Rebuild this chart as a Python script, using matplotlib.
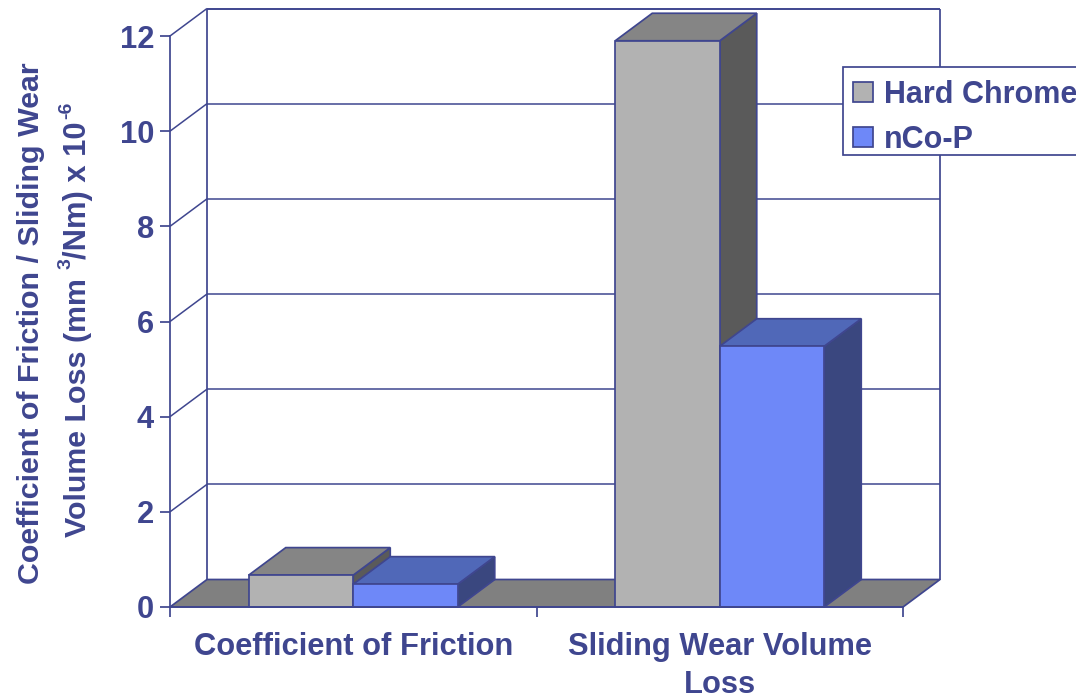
import matplotlib
matplotlib.use("Agg")
import matplotlib.pyplot as plt
from matplotlib.patches import Polygon, Patch, Rectangle

categories = ["Coefficient of Friction", "Sliding Wear Volume\nLoss"]
hard_chrome = [0.67, 11.9]
nco_p = [0.48, 5.48]
y_ticks = [0, 2, 4, 6, 8, 10, 12]
series_names = ["Hard Chrome", "nCo-P"]

W, H = 1076, 695
INK = "#3F468F"
FS = 22.2
plt.rcParams["font.family"] = ["Liberation Sans", "DejaVu Sans"]
plt.rcParams["font.weight"] = "bold"

fig = plt.figure(figsize=(W / 100, H / 100), dpi=100, facecolor="white")
L, R, T, B = 170.0, 903.0, 36.0, 607.0
ax = fig.add_axes([L / W, 1 - B / H, (R - L) / W, (B - T) / H])
ax.set_xlim(0, 2)
ax.set_ylim(0, 12)
ax.patch.set_visible(False)

px_x = 2 / (R - L)
px_y = 12 / (B - T)
DX = 37 * px_x
DY = 27.5 * px_y
LW = 1.25
bar_w = 104.5 * px_x


def poly(pts, fc, z):
    ax.add_patch(Polygon(pts, closed=True, facecolor=fc, edgecolor=INK, linewidth=LW,
                         zorder=z, clip_on=False, joinstyle="miter"))


def line(xs, ys, z=1, lw=LW):
    ax.plot(xs, ys, color=INK, lw=lw, zorder=z, clip_on=False, solid_capstyle="butt")


top = 12 + DY
poly([(DX, DY), (2 + DX, DY), (2, 0), (0, 0)], "#808080", 1)
line([DX, DX], [DY, top], 1)
line([DX, 2 + DX], [top, top], 1)
line([2 + DX, 2 + DX], [DY, top], 1)
for t in y_ticks[1:]:
    line([0, DX], [t, t + DY], 1, 1.1)
    line([DX, 2 + DX], [t + DY, t + DY], 1, 1.1)


def box(x0, w, h, front, topc, side, z):
    x1 = x0 + w
    ax.bar(x0, h, width=w, align="edge", color=front, edgecolor=INK, linewidth=LW, zorder=z + 0.2, clip_on=False)
    poly([(x1, 0), (x1 + DX, DY), (x1 + DX, h + DY), (x1, h)], side, z)
    poly([(x0, h), (x0 + DX, h + DY), (x1 + DX, h + DY), (x1, h)], topc, z + 0.1)


STYLE = [("#B2B2B2", "#858585", "#5A5A5A"), ("#6E88F8", "#5068B8", "#3A477F")]
for i in range(len(categories)):
    c = i + 0.5
    box(c - bar_w, bar_w, hard_chrome[i], *STYLE[0], 3)
    box(c, bar_w, nco_p[i], *STYLE[1], 4)

for sp in ("top", "right"):
    ax.spines[sp].set_visible(False)
for sp in ("left", "bottom"):
    ax.spines[sp].set_color(INK)
    ax.spines[sp].set_linewidth(LW)
    ax.spines[sp].set_zorder(6)

ax.set_yticks(y_ticks)
ax.tick_params(axis="y", length=7.5, width=LW, color=INK, labelcolor=INK, labelsize=FS, pad=4)
ax.set_xticks([0, 1, 2])
ax.set_xticklabels([])
ax.tick_params(axis="x", which="major", length=7.5, width=LW, color=INK)
ax.set_xticks([0.5, 1.5], minor=True)
ax.set_xticklabels(categories, minor=True, color=INK, fontsize=FS, linespacing=1.36)
ax.tick_params(axis="x", which="minor", length=0, pad=18)


def ptext(x, y, s, **kw):
    fig.text(x / W, 1 - y / H, s, color=INK, ha="center", va="baseline", rotation=90,
             rotation_mode="anchor", **kw)


ptext(39, 323, "Coefficient of Friction / Sliding Wear", fontsize=21.9)
ptext(86, 408, "Volume Loss (mm", fontsize=21.9)
ptext(71, 264, "3", fontsize=14)
ptext(86, 190, "/Nm) x 10", fontsize=FS)
ptext(71, 110, "-6", fontsize=14)

ax.add_patch(Rectangle((843 / W, 1 - 155 / H), 260 / W, 88 / H, transform=fig.transFigure,
                       facecolor="white", edgecolor=INK, linewidth=LW, zorder=9, clip_on=False))
leg_handles = [Patch(facecolor=STYLE[k][0], edgecolor=INK, linewidth=LW) for k in range(2)]
leg = ax.legend(leg_handles, series_names, loc="upper left",
                bbox_to_anchor=(843 / W, 1 - 70 / H), bbox_transform=fig.transFigure,
                fontsize=22, frameon=False,
                handlelength=0.65, handleheight=0.63, handletextpad=0.36,
                labelspacing=0.49, borderpad=0.33, borderaxespad=0)
leg.set_zorder(10)
for t in leg.get_texts():
    t.set_color(INK)

fig.savefig("out.png", dpi=100)
